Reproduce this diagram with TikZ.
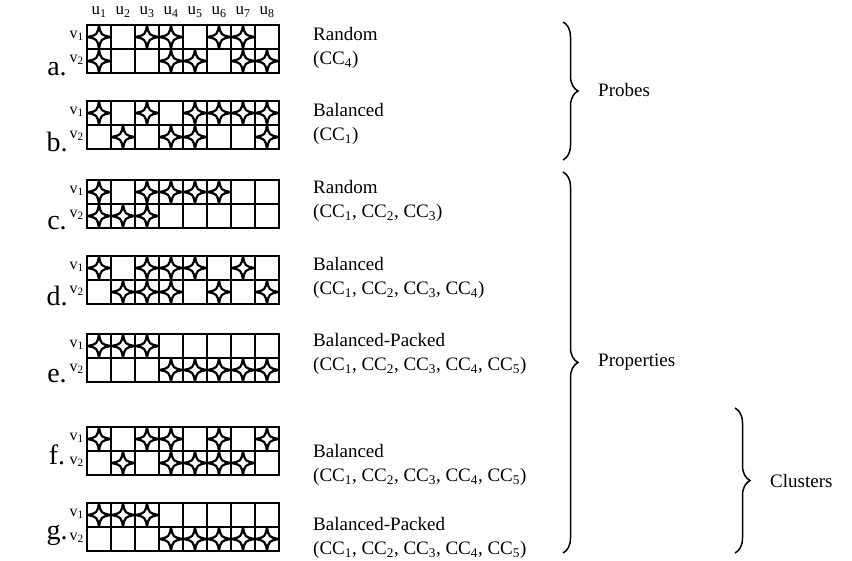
\documentclass[tikz,border=0pt]{standalone}
\usepackage{fontspec}
\setmainfont{Liberation Serif}
\usetikzlibrary{decorations.pathreplacing, positioning}

\tikzset{
    twinkle/.pic={
        \path[draw=black, line width=2.2pt, fill=white, line join=round]
            (0,-11.5) .. controls (2,-2) .. (11.5,0) .. controls (2,2) .. (0,11.5)
            .. controls (-2,2) .. (-11.5,0) .. controls (-2,-2) .. cycle;
    }
}

% one 2x8 assignment grid: name, top, v1 row, v2 row
\newcommand{\cellgrid}[4]{%
    \foreach \r in {0,1} \foreach \i in {0,...,7}
        \draw[cell] (87+24*\i,#2+24*\r) rectangle ++(24,24);
    \foreach \s [count=\i] in {#3}
        {\ifnum\s=1 \pic at (75+24*\i,#2+12) {twinkle};\fi}
    \foreach \s [count=\i] in {#4}
        {\ifnum\s=1 \pic at (75+24*\i,#2+36) {twinkle};\fi}
    \node[vlab] (#1-v1) at (85,#2+11) {v\textsubscript{1}};
    \node[vlab] (#1-v2) at (85,#2+35) {v\textsubscript{2}};
}

\begin{document}
\begin{tikzpicture}[x=1pt, y=-1pt,
    cell/.style={draw=black, line width=1.8pt},
    vlab/.style={anchor=east, inner sep=1pt, font=\fontsize{16}{16}\selectfont},
    ulab/.style={inner sep=1pt, font=\fontsize{17}{17}\selectfont},
    tag/.style={anchor=base, inner sep=0pt, font=\fontsize{28}{28}\selectfont},
    desc/.style={anchor=west, align=left, inner sep=0pt, font=\fontsize{19}{24}\selectfont},
    grp/.style={anchor=west, inner sep=0pt, font=\fontsize{19}{19}\selectfont},
    curly/.style={decorate, decoration={brace, amplitude=15pt}, line width=1.5pt}
]
    \useasboundingbox (0,0) rectangle (852,560);

    \foreach \i in {1,...,8}
        \node[ulab] (u\i) at (75+24*\i,12) {u\textsubscript{\i}};

    \cellgrid{a}{25}{1,0,1,1,0,1,1,0}{1,0,0,1,1,0,1,1}
    \cellgrid{b}{101}{1,0,1,0,1,1,1,1}{0,1,0,1,1,0,0,1}
    \cellgrid{c}{180}{1,0,1,1,1,1,0,0}{1,1,1,0,0,0,0,0}
    \cellgrid{d}{256}{1,0,1,1,1,0,1,0}{0,1,1,1,0,1,0,1}
    \cellgrid{e}{334}{1,1,1,0,0,0,0,0}{0,0,0,1,1,1,1,1}
    \cellgrid{f}{427}{1,0,1,1,0,1,0,1}{0,1,0,1,1,1,1,0}
    \cellgrid{g}{503}{1,1,1,0,0,0,0,0}{0,0,0,1,1,1,1,1}

    \node[tag] (a-tag) at (57,75) {a.};
    \node[tag] (b-tag) at (57,151) {b.};
    \node[tag] (c-tag) at (57,229) {c.};
    \node[tag] (d-tag) at (57,305) {d.};
    \node[tag] (e-tag) at (57,382) {e.};
    \node[tag] (f-tag) at (57,464) {f.};
    \node[tag] (g-tag) at (57,539) {g.};

    \node[desc] (a-desc) at (313,48) {Random\\(CC\textsubscript{4})};
    \node[desc] (b-desc) at (313,124) {Balanced\\(CC\textsubscript{1})};
    \node[desc] (c-desc) at (313,201) {Random\\(CC\textsubscript{1}, CC\textsubscript{2}, CC\textsubscript{3})};
    \node[desc] (d-desc) at (313,278) {Balanced\\(CC\textsubscript{1}, CC\textsubscript{2}, CC\textsubscript{3}, CC\textsubscript{4})};
    \node[desc] (e-desc) at (313,354) {Balanced-Packed\\(CC\textsubscript{1}, CC\textsubscript{2}, CC\textsubscript{3}, CC\textsubscript{4}, CC\textsubscript{5})};
    \node[desc] (f-desc) at (313,465) {Balanced\\(CC\textsubscript{1}, CC\textsubscript{2}, CC\textsubscript{3}, CC\textsubscript{4}, CC\textsubscript{5})};
    \node[desc] (g-desc) at (313,538) {Balanced-Packed\\(CC\textsubscript{1}, CC\textsubscript{2}, CC\textsubscript{3}, CC\textsubscript{4}, CC\textsubscript{5})};

    \coordinate (probes-top) at (563,22);
    \coordinate (probes-bot) at (563,160);
    \coordinate (props-top) at (563,172);
    \coordinate (props-bot) at (563,553);
    \coordinate (clust-top) at (735,408);
    \coordinate (clust-bot) at (735,553);
    \draw[curly] (probes-top) -- (probes-bot);
    \draw[curly] (props-top) -- (props-bot);
    \draw[curly] (clust-top) -- (clust-bot);
    \node[grp] (probes) at (598,90) {Probes};
    \node[grp] (props) at (598,362) {Properties};
    \node[grp] (clust) at (770,481) {Clusters};
\end{tikzpicture}
\end{document}
